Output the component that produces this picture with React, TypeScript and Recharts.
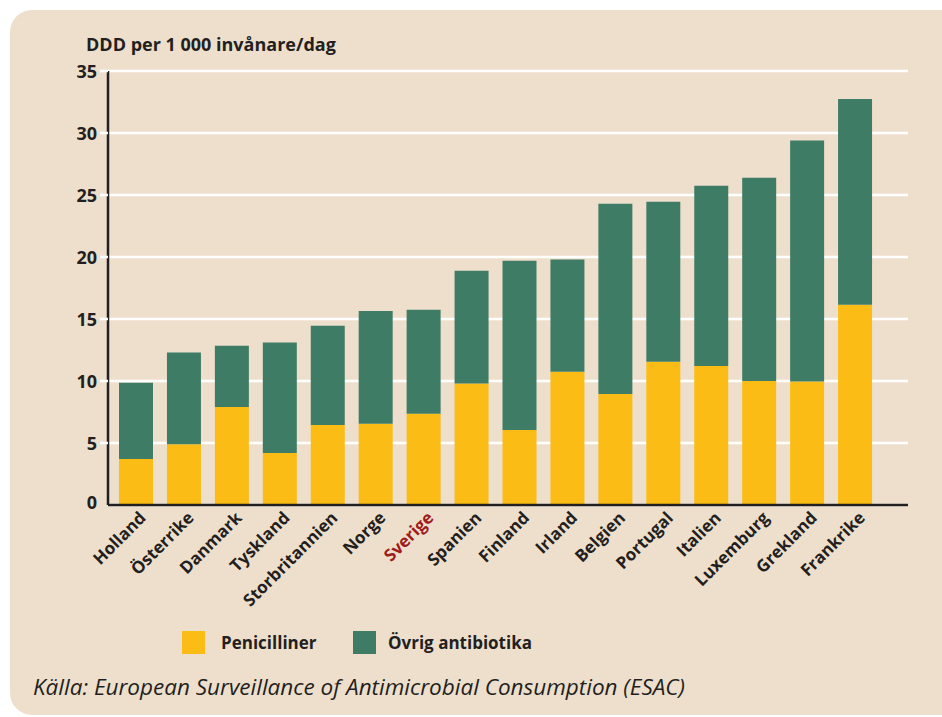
import React from "react";
import { BarChart, Bar, XAxis, YAxis, CartesianGrid } from "recharts";

const countries = [
  "Holland", "Österrike", "Danmark", "Tyskland", "Storbritannien", "Norge", "Sverige", "Spanien",
  "Finland", "Irland", "Belgien", "Portugal", "Italien", "Luxemburg", "Grekland", "Frankrike",
];
const totals = [9.85, 12.3, 12.85, 13.1, 14.45, 15.65, 15.75, 18.9, 19.7, 19.8, 24.3, 24.45, 25.75, 26.4, 29.4, 32.75];
const penicilliner = [3.7, 4.9, 7.9, 4.2, 6.45, 6.55, 7.35, 9.8, 6.05, 10.75, 8.95, 11.55, 11.2, 10.0, 9.95, 16.15];
const yTicks = [0, 5, 10, 15, 20, 25, 30, 35];

const data = countries.map((c, i) => ({
  name: c,
  pen: penicilliner[i],
  ovrig: +(totals[i] - penicilliner[i]).toFixed(2),
}));

const FONT = "'Open Sans', 'DejaVu Sans', sans-serif";
const TEXT = "#231F20";
const YELLOW = "#FBBC15";
const GREEN = "#3E7C66";
const BG = "#EEDFCC";

const XTick = (props: any) => {
  const { x, y, payload } = props;
  const isSe = payload.value === "Sverige";
  return (
    <text
      x={x + 11}
      y={y + 14}
      transform={`rotate(-45 ${x + 11} ${y + 14})`}
      textAnchor="end"
      fontFamily={FONT}
      fontWeight={700}
      fontSize={17}
      fill={isSe ? "#9E1B20" : TEXT}
    >
      {payload.value}
    </text>
  );
};

const YTick = (props: any) => {
  const { x, y, payload } = props;
  return (
    <g>
      {payload.value !== 0 && (
        <line x1={x + 3} x2={x + 11} y1={y} y2={y} stroke="#FFFFFF" strokeWidth={2.5} />
      )}
      <text
        x={x}
        y={y}
        dy={payload.value === 0 ? 4 : 7}
        textAnchor="end"
        fontFamily={FONT}
        fontWeight={700}
        fontSize={18}
        fill={TEXT}
      >
        {payload.value}
      </text>
    </g>
  );
};

export default function App() {
  return (
    <div
      style={{
        position: "fixed",
        left: 0,
        top: 0,
        width: 942,
        height: 717,
        background: "#FFFFFF",
        overflow: "hidden",
      }}
    >
      <div
        style={{
          position: "absolute",
          left: 10,
          top: 10,
          width: 960,
          height: 705,
          background: BG,
          borderRadius: 22,
        }}
      />
      <div
        style={{
          position: "absolute",
          left: 86,
          top: 32,
          fontFamily: FONT,
          fontWeight: 700,
          fontSize: 18,
          color: TEXT,
          whiteSpace: "nowrap",
        }}
      >
        DDD per 1 000 invånare/dag
      </div>
      <div style={{ position: "absolute", left: 0, top: 0 }}>
        <BarChart
          width={942}
          height={717}
          data={data}
          margin={{ top: 71, right: 34, bottom: 112, left: 48 }}
          barSize={34}
        >
          <CartesianGrid vertical={false} stroke="#FFFFFF" strokeWidth={2.5} />
          <XAxis
            dataKey="name"
            height={100}
            interval={0}
            padding={{ left: 4, right: 29 }}
            tickLine={false}
            tickSize={0}
            tickMargin={0}
            axisLine={{ stroke: TEXT, strokeWidth: 2.5 }}
            tick={<XTick />}
          />
          <YAxis
            width={60}
            domain={[0, 35]}
            ticks={yTicks}
            interval={0}
            tickLine={false}
            tickSize={8}
            tickMargin={3}
            axisLine={{ stroke: TEXT, strokeWidth: 2.5 }}
            tick={<YTick />}
          />
          <Bar dataKey="pen" stackId="a" fill={YELLOW} isAnimationActive={false} />
          <Bar dataKey="ovrig" stackId="a" fill={GREEN} isAnimationActive={false} />
        </BarChart>
      </div>
      <div style={{ position: "absolute", left: 182, top: 631, width: 23, height: 23, background: YELLOW }} />
      <div
        style={{
          position: "absolute",
          left: 221,
          top: 631,
          fontFamily: FONT,
          fontWeight: 700,
          fontSize: 17,
          color: TEXT,
          whiteSpace: "nowrap",
        }}
      >
        Penicilliner
      </div>
      <div style={{ position: "absolute", left: 353, top: 631, width: 23, height: 23, background: GREEN }} />
      <div
        style={{
          position: "absolute",
          left: 388,
          top: 631,
          fontFamily: FONT,
          fontWeight: 700,
          fontSize: 17,
          color: TEXT,
          whiteSpace: "nowrap",
        }}
      >
        Övrig antibiotika
      </div>
      <div
        style={{
          position: "absolute",
          left: 33,
          top: 671,
          fontFamily: FONT,
          fontStyle: "italic",
          fontSize: 22.5,
          color: TEXT,
          whiteSpace: "nowrap",
        }}
      >
        Källa: European Surveillance of Antimicrobial Consumption (ESAC)
      </div>
    </div>
  );
}
